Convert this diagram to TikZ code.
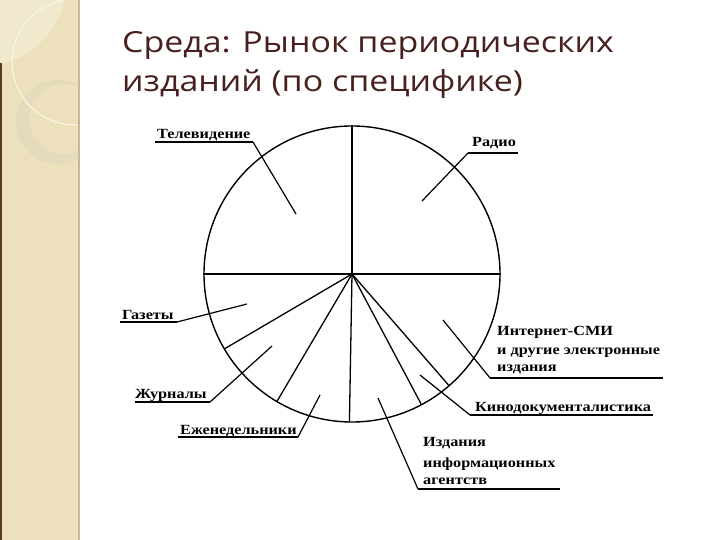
\documentclass[tikz,border=0pt]{standalone}
\usepackage{fontspec}
\setmainfont{Liberation Serif}
\newfontfamily\titlefont[FakeStretch=1.17]{Open Sans}
\newfontfamily\labfont[FakeStretch=1.16]{Liberation Serif}
\usetikzlibrary{calc}
\definecolor{strip}{RGB}{236,225,188}
\definecolor{stripline}{RGB}{200,186,150}
\definecolor{lightcream}{RGB}{241,233,205}
\definecolor{ringcol}{RGB}{228,219,188}
\definecolor{titlecol}{RGB}{72,32,30}
\definecolor{edgecol}{RGB}{90,60,35}
\tikzset{
  ttl/.style={anchor=base west, inner sep=0pt, font=\titlefont\fontsize{29}{31}\selectfont, text=titlecol},
  lab/.style={anchor=base west, inner sep=0pt, font=\labfont\bfseries\fontsize{14}{16}\selectfont},
  leader/.style={line width=1.2pt, black},
  uline/.style={line width=1.3pt, black},
  spoke/.style={line width=1.3pt, black}
}
\begin{document}
\begin{tikzpicture}[x=1pt,y=-1pt]
\useasboundingbox (0,0) rectangle (720,540);
\fill[white] (0,0) rectangle (720,540);
% left decorative strip
\fill[strip] (0,0) rectangle (78,540);
\begin{scope}
  \clip (0,0) rectangle (78,540);
  \fill[lightcream] (-20,-20) circle[radius=87pt];
  \fill[ringcol, even odd rule] (58,122) circle[radius=42pt] (64,119) circle[radius=35pt];
  \draw[white!70!strip, line width=1pt] (75,62) circle[radius=63pt];
\end{scope}
\draw[stripline, line width=2pt] (79,0) -- (79,540);
\draw[edgecol, line width=1.5pt] (0.75,63) -- (0.75,540);
% title
\node[ttl] (t1) at (122,53) {Среда: Рынок периодических};
\node[ttl] (t2) at (122,92) {изданий (по специфике)};
% circle
\coordinate (c) at (352,274);
\node[draw, circle, line width=1.4pt, minimum size=296pt, inner sep=0pt] (pie) at (c) {};
\draw[spoke] (pie.west) -- (pie.east);
\draw[spoke] (c) -- (pie.north);
\foreach \a in {210.4,239.5,269,298,311}
  \draw[spoke] (c) -- ($(c)+(\a:148pt)$);
% labels
\node[lab] (tv) at (157,139) {Телевидение};
\node[lab] (radio) at (472,147) {Радио};
\node[lab] (gaz) at (122,319) {Газеты};
\node[lab] (jur) at (135,398) {Журналы};
\node[lab] (ezh) at (180,434) {Еженедельники};
\node[lab] (int1) at (497,335) {Интернет-СМИ};
\node[lab] (int2) at (497,354) {и другие электронные};
\node[lab] (int3) at (497,371) {издания};
\node[lab] (kino) at (475,411) {Кинодокументалистика};
\node[lab] (ia1) at (423,446) {Издания};
\node[lab] (ia2) at (423,467) {информационных};
\node[lab] (ia3) at (423,484) {агентств};
% leader start points and corners
\coordinate (tvS) at (296,214); \coordinate (tvC) at (253,142); \coordinate (tvE) at (155,142);
\coordinate (raS) at (422,201); \coordinate (raC) at (468,153); \coordinate (raE) at (518,153);
\coordinate (gaS) at (247,304); \coordinate (gaC) at (177,322); \coordinate (gaE) at (120,322);
\coordinate (juS) at (272,346); \coordinate (juC) at (210,402); \coordinate (juE) at (135,402);
\coordinate (ezS) at (320,395); \coordinate (ezC) at (298,437); \coordinate (ezE) at (178,437);
\coordinate (inS) at (443,320); \coordinate (inC) at (490,378); \coordinate (inE) at (663,378);
\coordinate (kiS) at (420,375); \coordinate (kiC) at (470,415); \coordinate (kiE) at (653,415);
\coordinate (iaS) at (378,398); \coordinate (iaC) at (418,489); \coordinate (iaE) at (560,489);
\foreach \p in {tv,ra,ga,ju,ez,in,ki,ia}{
  \draw[leader] (\p S) -- (\p C);
  \draw[uline] (\p C) -- (\p E);
}
\end{tikzpicture}
\end{document}
